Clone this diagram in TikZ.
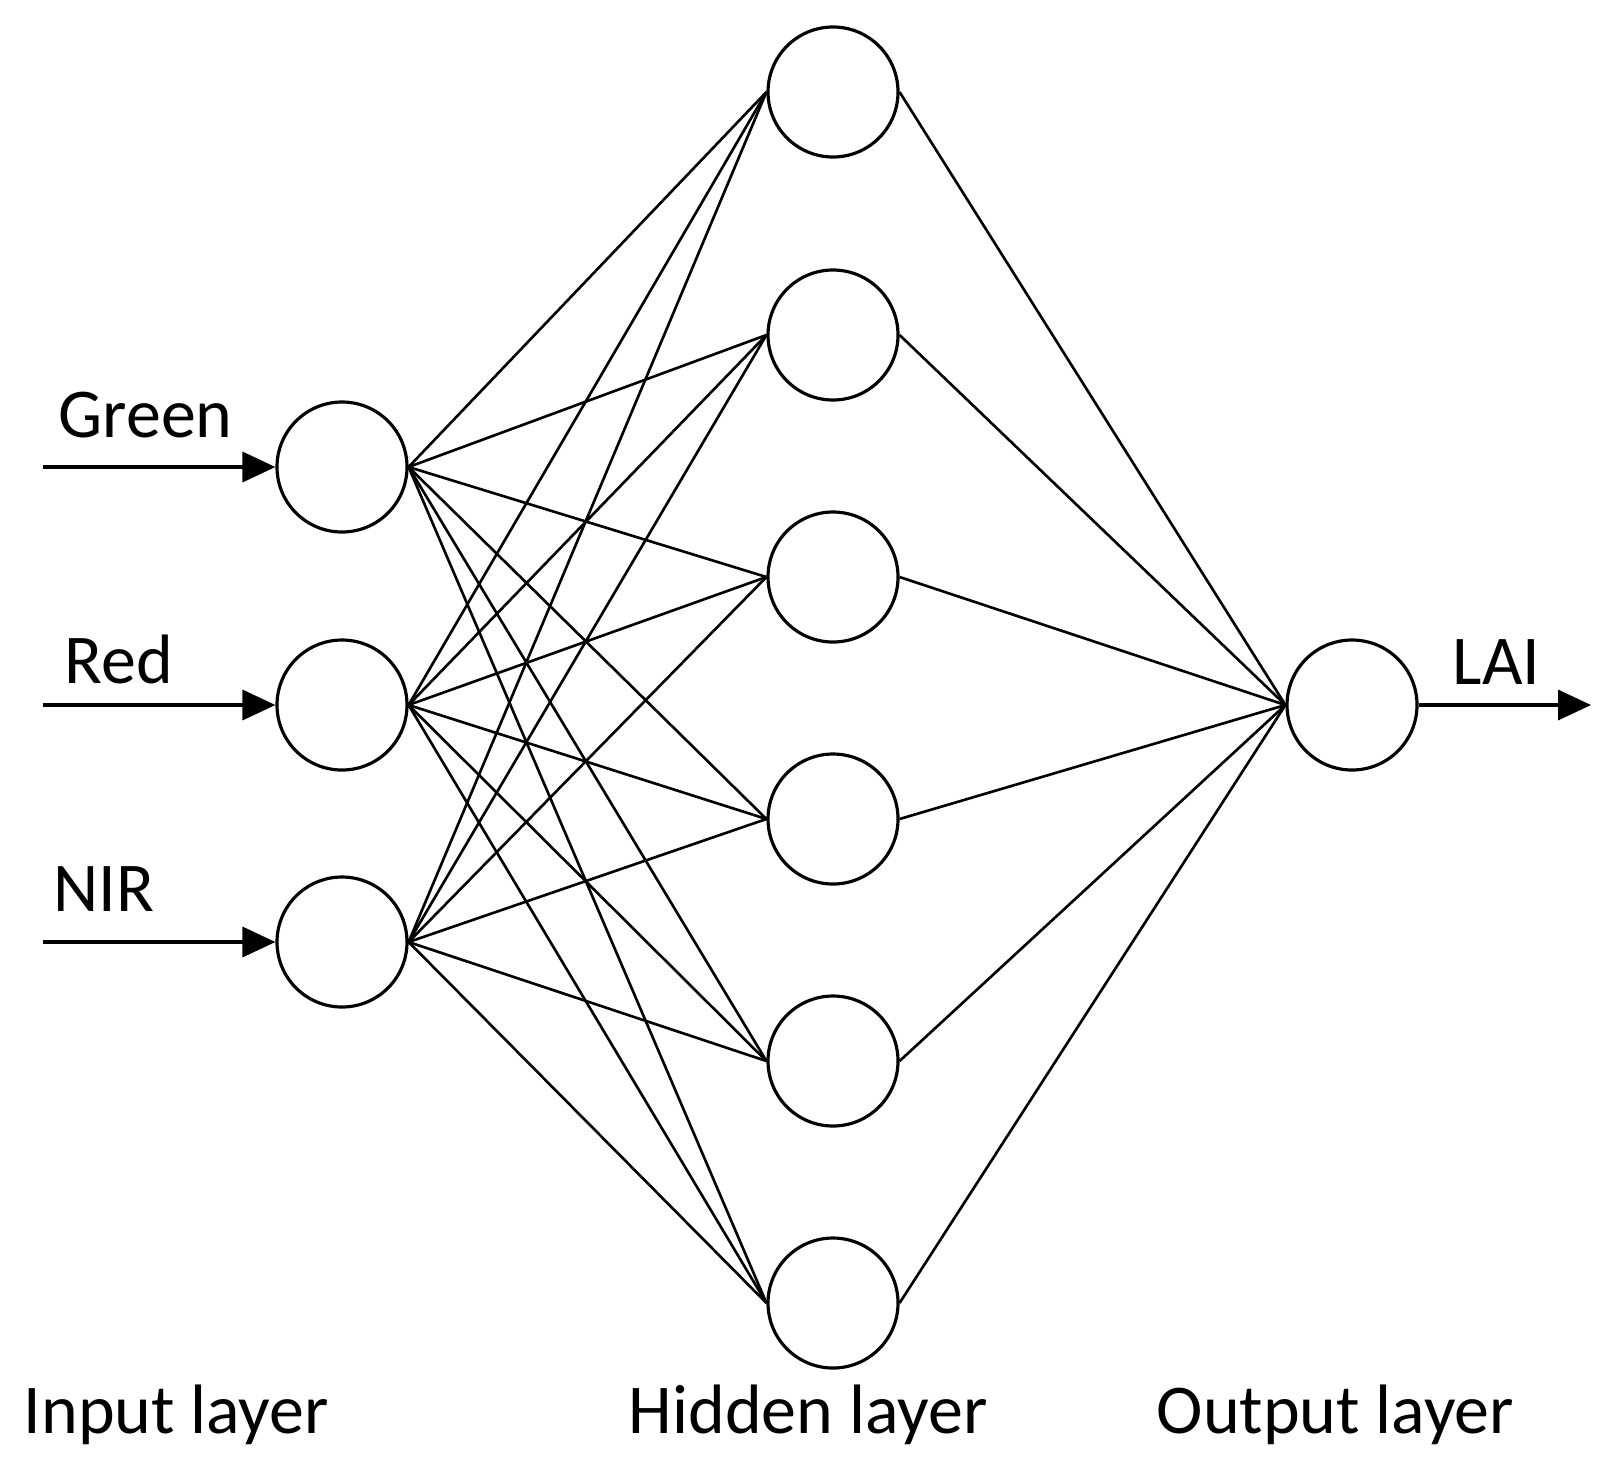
\documentclass[tikz,border=0pt]{standalone}
\usepackage{fontspec}
\setmainfont{Carlito}
\usetikzlibrary{arrows.meta}

\begin{document}
\begin{tikzpicture}[
		neuron/.style={draw,circle,minimum size=1.3cm,inner sep=0pt,line width=0.9pt},
		link/.style={line width=0.75pt},
		feed/.style={line width=1pt,-{Triangle[length=0.33cm,width=0.3cm]}},
		lbl/.style={anchor=base west,inner sep=0pt,font=\fontsize{19.9}{24}\selectfont}]
		\useasboundingbox (0,0) rectangle (16.09,-14.75);
		% input layer
		\node[neuron] (green) at (3.42,-4.67) {};
		\node[neuron] (red) at (3.42,-7.05) {};
		\node[neuron] (nir) at (3.42,-9.42) {};
		\coordinate (greenin) at (0.43,-4.67);
		\coordinate (redin) at (0.43,-7.05);
		\coordinate (nirin) at (0.43,-9.42);
		\draw [feed] (greenin) -- (green.west);
		\draw [feed] (redin) -- (red.west);
		\draw [feed] (nirin) -- (nir.west);
		\node[lbl] (greenlbl) at (0.58,-4.37) {Green};
		\node[lbl] (redlbl) at (0.64,-6.83) {Red};
		\node[lbl] (nirlbl) at (0.53,-9.11) {NIR};
		% hidden layer
		\foreach \i/\y in {1/-0.92,2/-3.35,3/-5.77,4/-8.19,5/-10.61,6/-13.03}
			\node[neuron] (h\i) at (8.33,\y) {};
		% output layer
		\node[neuron] (lai) at (13.52,-7.05) {};
		\coordinate (laiout) at (15.91,-7.05);
		\draw [feed] (lai.east) -- (laiout);
		\node[lbl] (lailbl) at (14.52,-6.84) {LAI};
		% connections
		\foreach \n in {green,red,nir}
			\foreach \i in {1,...,6}
				\draw [link] (\n.east) -- (h\i.west);
		\foreach \i in {1,...,6}
			\draw [link] (h\i.east) -- (lai.west);
		% layer names
		\node[lbl] (inputname) at (0.23,-14.33) {Input layer};
		\node[lbl] (hiddenname) at (6.28,-14.33) {Hidden layer};
		\node[lbl] (outputname) at (11.56,-14.33) {Output layer};
	\end{tikzpicture}
\end{document}
